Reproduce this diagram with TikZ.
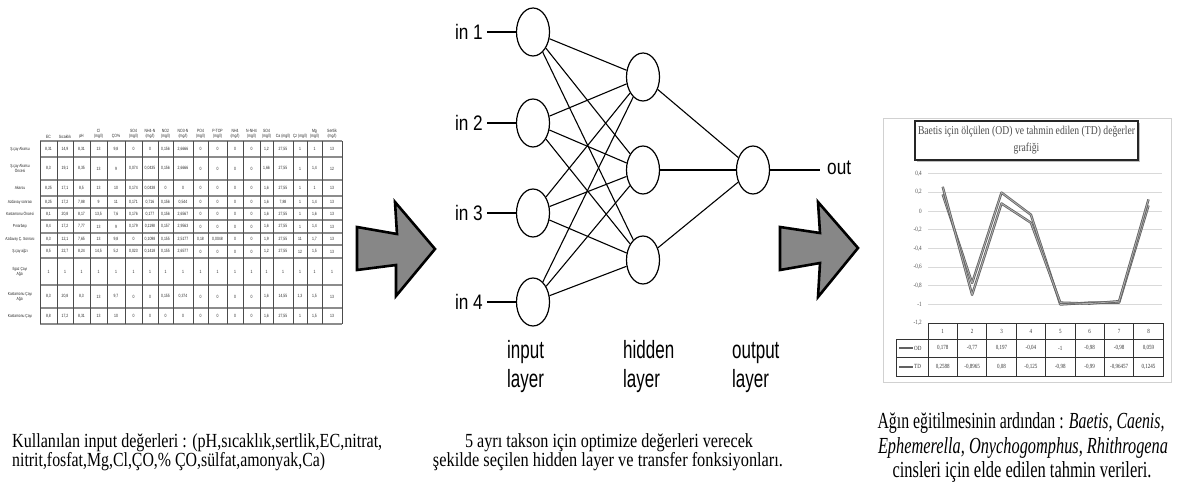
\documentclass[tikz,border=0pt]{standalone}
\usepackage{fontspec}
\usepackage{graphicx}
\setmainfont{Liberation Serif}
\newfontfamily\netfont[FakeStretch=0.82]{Liberation Sans}
\newfontfamily\layfont[FakeStretch=0.68]{Liberation Sans}
\newfontfamily\tinyfont[FakeStretch=0.75]{Liberation Sans}
\newfontfamily\chfont[FakeStretch=0.8]{Liberation Serif}
\usetikzlibrary{shapes.geometric}
\newcommand\fitline[2]{\resizebox{#1pt}{\height}{#2}}
\def\colc{{48.5,65,81.5,98.5,116,133.5,150,165.5,183,200.5,217.5,235,251.5,266.5,283,300,314.5,332}}
\newcommand\tabrow[3]{\foreach \v [count=\c] in {#3} {\pgfmathsetmacro\xc{\colc[\c-1]}\node[cell] (t#1-\c) at (\xc,#2) {\v};}}
\begin{document}
\begin{tikzpicture}[x=1pt,y=-1pt,
  neuron/.style={ellipse, draw, line width=1.2pt, minimum width=33pt, minimum height=48pt, inner sep=0pt, fill=white},
  link/.style={line width=1.1pt},
  bigarrow/.style={fill=black!47, draw=black, line width=2.6pt, line join=miter},
  inlab/.style={font=\netfont\fontsize{21}{21}\selectfont, inner sep=0pt},
  laylab/.style={font=\layfont\fontsize{25}{29}\selectfont, inner sep=0pt, align=left, anchor=base west},
  cell/.style={font=\tinyfont\fontsize{4.6}{5}\selectfont, inner sep=0pt, text=black!85},
  hcell/.style={font=\tinyfont\fontsize{4.6}{5.2}\selectfont, inner sep=0pt, text=black!85, align=center, anchor=south},
  rlab/.style={font=\tinyfont\fontsize{4.4}{5}\selectfont, inner sep=0pt, text=black!85, align=center},
  axlab/.style={font=\chfont\fontsize{6.5}{6.5}\selectfont, inner sep=0pt, text=black!70, anchor=east},
  dcell/.style={font=\chfont\fontsize{6.3}{6.5}\selectfont, inner sep=0pt, text=black!80},
  serdark/.style={line width=2.4pt, draw=black!62, line join=round},
  serlight/.style={line width=0.8pt, draw=black!30, line join=round},
  para/.style={inner sep=0pt, font=\fontsize{20}{20}\selectfont},
  parab/.style={inner sep=0pt, font=\fontsize{23}{23}\selectfont}
]
\useasboundingbox (0,0) rectangle (1180,497);

%% ---------------- left table ----------------
\foreach \y in {141,157,180,196,208,220,233,245,258,285,308,324}
  \draw[black!45, line width=1.4pt] (40,\y) -- (342,\y);
\foreach \x in {40,57,73,90,107,125,142,158,173,193,208,227,243,260,273,293,307,322,342}
  \draw[black!70, line width=0.6pt] (\x,141) -- (\x,324);
\foreach \h [count=\c] in {EC,Sıcaklık,pH,{Cl\\(mg/l)},ÇO\%,{SO4\\(mg/l)},{NH4-N\\(mg/l)},{NO2\\(mg/l)},{NO3-N\\(mg/l)},{PO4\\(mg/l)},{P-TOP\\(mg/l)},{NH4\\(mg/l)},{N-NH4\\(mg/l)},{SO4\\(mg/l)},{Ca (mg/l)},{Çz (mg/l)},{Mg\\(mg/l)},{Sertlik\\(mg/l)}}
  {\pgfmathsetmacro\xc{\colc[\c-1]}\node[hcell] (hd\c) at (\xc,139) {\h};}
\node[rlab] (rl1) at (20,149) {Ş.çay Akarsu};
\node[rlab] (rl2) at (20,168.5) {Ş.çay Akarsu\\Öncesi};
\node[rlab] (rl3) at (20,188) {Akarsu};
\node[rlab] (rl4) at (20,202) {Azdavay sonrası};
\node[rlab] (rl5) at (20,214) {Kastamonu Öncesi};
\node[rlab] (rl6) at (20,226.5) {Pınarbaşı};
\node[rlab] (rl7) at (20,239) {Azdavay Ç. Sonrası};
\node[rlab] (rl8) at (20,251.5) {Ş.çay ağzı};
\node[rlab] (rl9) at (20,271.5) {Ilgaz Çayı\\Ağzı};
\node[rlab] (rl10) at (20,296.5) {Kastamonu Çayı\\Ağzı};
\node[rlab] (rl11) at (20,316) {Kastamonu Çayı};
\tabrow{1}{149}{{8,31},{14,9},{8,31},13,{9,8},0,0,{0,156},{2,6666},0,0,0,0,{1,2},{27,55},1,1,13}
\tabrow{2}{168.5}{{8,3},{19,1},{8,35},13,9,{0,074},{0,0435},{0,156},{2,6666},0,0,0,0,{1,66},{27,55},1,{1,4},12}
\tabrow{3}{188}{{8,25},{17,1},{8,5},13,10,{0,174},{0,0438},0,0,0,0,0,0,{1,6},{27,55},1,1,13}
\tabrow{4}{202}{{8,25},{17,2},{7,88},9,11,{0,171},{0,716},{0,156},{0,544},0,0,0,0,{1,6},{7,88},1,{1,4},13}
\tabrow{5}{214}{{8,1},{20,8},{8,17},{13,5},{7,6},{0,176},{0,177},{0,156},{2,6567},0,0,0,0,{1,6},{27,55},1,{1,6},13}
\tabrow{6}{226.5}{{8,4},{17,2},{7,77},13,9,{0,179},{0,1198},{0,157},{2,9563},0,0,0,0,{1,6},{27,55},1,{1,4},13}
\tabrow{7}{239}{{8,3},{12,1},{7,65},13,{9,8},0,{0,1098},{0,155},{2,5177},{0,18},{0,0048},0,0,{1,9},{27,55},11,{1,7},13}
\tabrow{8}{251.5}{{8,5},{22,7},{8,24},{14,5},{5,2},{0,023},{0,1418},{0,155},{2,6577},0,0,0,0,{1,2},{27,55},12,{1,5},13}
\tabrow{9}{271.5}{1,1,1,1,1,1,1,1,1,1,1,1,1,1,1,1,1,1}
\tabrow{10}{296.5}{{8,3},{20,8},{8,3},13,{9,7},0,0,{0,155},{0,374},0,0,0,0,{1,6},{14,55},{1,3},{1,5},13}
\tabrow{11}{316}{{8,8},{17,2},{8,31},13,10,0,0,0,0,0,0,0,0,{1,6},{27,55},1,{1,5},13}

%% ---------------- arrows ----------------
\draw[bigarrow] (357,227) -- (397,234) -- (395,202) -- (435,249) -- (396,296) -- (396,265) -- (357,270) -- cycle;
\draw[bigarrow] (780,227) -- (820,233) -- (818,202) -- (858,248) -- (818,297) -- (820,263) -- (780,270) -- cycle;

%% ---------------- network ----------------
\node[neuron] (i1) at (533,32) {};
\node[neuron] (i2) at (533,123) {};
\node[neuron] (i3) at (533,213) {};
\node[neuron] (i4) at (533,302) {};
\node[neuron] (h1) at (643,77) {};
\node[neuron] (h2) at (643,170) {};
\node[neuron] (h3) at (643,260) {};
\node[neuron] (o) at (753,170) {};
\foreach \i in {1,...,4}
  \foreach \h in {1,2,3}
    \draw[link] (i\i) -- (h\h);
\foreach \h in {1,2,3}
  \draw[link] (h\h) -- (o);
\foreach \i/\y in {1/32,2/123,3/213,4/302} {
  \coordinate (s\i) at (487,\y);
  \draw[link] (s\i) -- (i\i);
  \node[inlab, anchor=east] (l\i) at (483,\y) {in \i};
}
\coordinate (oe) at (820,170);
\draw[link] (o) -- (oe);
\node[inlab, anchor=west] (outl) at (827,168) {out};
\node[laylab] (li) at (507,387) {input\\layer};
\node[laylab] (lh) at (623,387) {hidden\\layer};
\node[laylab] (lo) at (732,387) {output\\layer};

%% ---------------- chart ----------------
\draw[black!18, line width=0.8pt] (883,118) rectangle (1171,382);
\foreach \v/\t in {0.4/{0,4},0.2/{0,2},0/0,-0.2/{-0,2},-0.4/{-0,4},-0.6/{-0,6},-0.8/{-0,8},-1/{-1},-1.2/{-1,2}} {
  \pgfmathsetmacro\yy{211-93.5*\v}
  \ifdim\v pt>-1.1pt \draw[black!15, line width=0.7pt] (928,\yy) -- (1162,\yy); \fi
  \node[axlab] at (922,\yy) {\t};
}
\draw[serdark] plot coordinates {(942.7,194.4) (972.1,283.0) (1001.5,192.6) (1030.9,214.7) (1060.3,304.5) (1089.7,302.6) (1119.1,302.6) (1148.5,205.5)};
\draw[serlight] plot coordinates {(942.7,194.4) (972.1,283.0) (1001.5,192.6) (1030.9,214.7) (1060.3,304.5) (1089.7,302.6) (1119.1,302.6) (1148.5,205.5)};
\draw[serdark] plot coordinates {(942.7,186.8) (972.1,294.8) (1001.5,203.5) (1030.9,222.7) (1060.3,302.6) (1089.7,303.6) (1119.1,301.2) (1148.5,199.4)};
\draw[serlight] plot coordinates {(942.7,186.8) (972.1,294.8) (1001.5,203.5) (1030.9,222.7) (1060.3,302.6) (1089.7,303.6) (1119.1,301.2) (1148.5,199.4)};
% title box
\fill[black!25] (917,123) rectangle (1140,162);
\node[draw=black!85, line width=1.6pt, fill=white, minimum width=223pt, minimum height=39pt, inner sep=0pt, align=center, font=\chfont\fontsize{12}{17}\selectfont, text=black!70] (title) at (1026.5,140.5) {\fitline{217}{Baetis için ölçülen (OD) ve tahmin edilen (TD) değerler}\\grafiği};
% data table
\draw[black!80, line width=0.7pt] (928,323) rectangle (1163,339);
\draw[black!80, line width=0.7pt] (896,339) rectangle (1163,376);
\draw[black!80, line width=0.7pt] (896,357) -- (1163,357);
\foreach \k in {0,...,8} \draw[black!80, line width=0.7pt] ({928+29.4*\k},323) -- ({928+29.4*\k},376);
\foreach \k in {1,...,8} \node[dcell] (cat\k) at ({928+29.4*(\k-0.5)},331) {\k};
\foreach \t [count=\k] in {{0,178},{-0,77},{0,197},{-0,04},{-1},{-0,98},{-0,98},{0,059}}
  \node[dcell] (od\k) at ({928+29.4*(\k-0.5)},348) {\t};
\foreach \t [count=\k] in {{0,2588},{-0,8965},{0,08},{-0,125},{-0,98},{-0,99},{-0,96457},{0,1245}}
  \node[dcell] (td\k) at ({928+29.4*(\k-0.5)},366.5) {\t};
\draw[black!62, line width=2pt] (899,348) -- (913,348);
\draw[black!62, line width=2pt] (899,366.5) -- (913,366.5);
\node[dcell, anchor=west] (odl) at (914,348) {OD};
\node[dcell, anchor=west] (tdl) at (914,366.5) {TD};

%% ---------------- captions ----------------
\node[para, anchor=base west] (k1) at (12,447) {\fitline{370}{Kullanılan input değerleri : (pH,sıcaklık,sertlik,EC,nitrat,}};
\node[para, anchor=base west] (k2) at (12,466) {\fitline{313}{nitrit,fosfat,Mg,Cl,ÇO,\% ÇO,sülfat,amonyak,Ca)}};
\node[para, anchor=base] (m1) at (609,447) {\fitline{288}{5 ayrı takson için optimize değerleri verecek}};
\node[para, anchor=base] (m2) at (608,466) {\fitline{350}{şekilde seçilen hidden layer ve transfer fonksiyonları.}};
\node[parab, anchor=base] (r1) at (1021,428) {\fitline{287}{Ağın eğitilmesinin ardından : \textit{Baetis, Caenis,}}};
\node[parab, anchor=base] (r2) at (1023,453) {\fitline{290}{\textit{Ephemerella, Onychogomphus, Rhithrogena}}};
\node[parab, anchor=base] (r3) at (1022,477) {\fitline{259}{cinsleri için elde edilen tahmin verileri.}};
\end{tikzpicture}
\end{document}
